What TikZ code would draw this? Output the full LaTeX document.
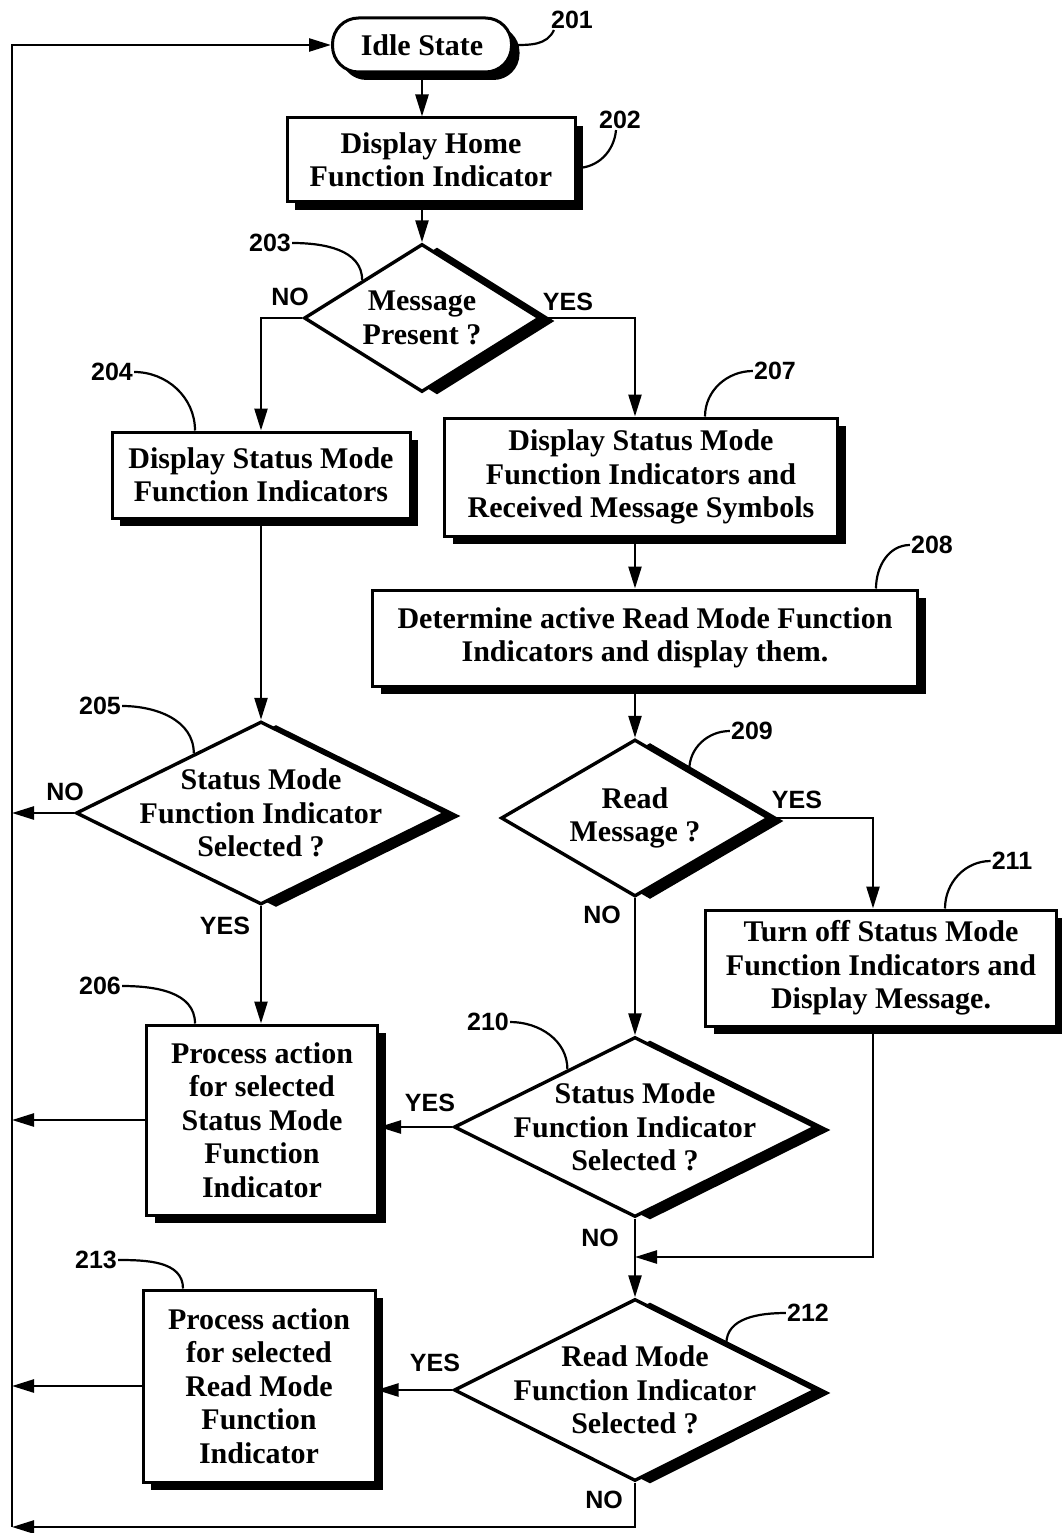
\documentclass[tikz,border=0pt]{standalone}
\usepackage{fontspec}
\setmainfont{Liberation Serif}
\newfontfamily\lblfont{Liberation Sans}
\usetikzlibrary{arrows.meta,positioning,shapes.geometric,shadows,calc}

\begin{document}
\begin{tikzpicture}[x=1pt,y=-1pt,>={Triangle[length=22pt,width=13pt]}]
\tikzstyle{box}=[draw,line width=3pt,fill=white,align=center,inner sep=0pt,font=\fontsize{30}{33.5}\selectfont\bfseries,drop shadow={shadow xshift=8pt,shadow yshift=-8pt,fill=black,opacity=1}]
\tikzstyle{dia}=[diamond,draw,line width=3.4pt,fill=white,inner sep=0pt,drop shadow={shadow xshift=15pt,shadow yshift=-3pt,fill=black,opacity=1}]
\tikzstyle{dtext}=[align=center,inner sep=0pt,font=\fontsize{30}{33.5}\selectfont\bfseries]
\tikzstyle{flow}=[line width=2.5pt,->]
\tikzstyle{lead}=[line width=2.2pt]
\tikzstyle{num}=[inner sep=1pt,font=\fontsize{25}{25}\selectfont\lblfont\bfseries]
\path[use as bounding box,fill=white] (0,0) rectangle (1062,1533);

% boxes and decisions
\node[box,rounded corners=26pt,minimum width=179pt,minimum height=54pt] (idle) at (422,45) {Idle State};
\node[box,minimum width=288pt,minimum height=84pt] (home) at (431,160) {Display Home\\Function Indicator};
\node[dia,minimum width=236pt,minimum height=148pt] (msg) at (422,318) {};
\node[dtext] (msgtxt) at (msg) {Message\\Present ?};
\node[box,minimum width=298pt,minimum height=86pt] (stat) at (261,475) {Display Status Mode\\Function Indicators};
\node[box,minimum width=393pt,minimum height=118pt] (statrx) at (641,477) {Display Status Mode\\Function Indicators and\\Received Message Symbols};
\node[box,minimum width=545pt,minimum height=96pt] (rdmode) at (645,638) {Determine active Read Mode Function\\Indicators and display them.};
\node[dia,minimum width=370pt,minimum height=183pt] (selst) at (261,813) {};
\node[dtext] (selsttxt) at (selst) {Status Mode\\Function Indicator\\Selected ?};
\node[box,minimum width=231pt,minimum height=190pt] (procst) at (262,1120) {Process action\\for selected\\Status Mode\\Function\\Indicator};
\node[dia,minimum width=268pt,minimum height=157pt] (rdmsg) at (635,818) {};
\node[dtext] (rdmsgtxt) at (rdmsg) {Read\\Message ?};
\node[box,minimum width=351pt,minimum height=116pt] (showmsg) at (881,968) {Turn off Status Mode\\Function Indicators and\\Display Message.};
\node[dia,minimum width=362pt,minimum height=180pt] (selst2) at (635,1127) {};
\node[dtext] (selst2txt) at (selst2) {Status Mode\\Function Indicator\\Selected ?};
\node[dia,minimum width=362pt,minimum height=182pt] (selrd) at (635,1390) {};
\node[dtext] (selrdtxt) at (selrd) {Read Mode\\Function Indicator\\Selected ?};
\node[box,minimum width=232pt,minimum height=192pt] (procrd) at (259,1386) {Process action\\for selected\\Read Mode\\Function\\Indicator};

% loop corners and merge point
\coordinate (loopT) at (12,45);
\coordinate (loopB) at (12,1527);
\coordinate (merge) at (635,1257);

% branch labels
\node[num] (no203) at (290,297) {NO};
\node[num] (yes203) at (568,302) {YES};
\node[num] (no205) at (65,792) {NO};
\node[num] (yes205) at (225,926) {YES};
\node[num] (yes209) at (797,800) {YES};
\node[num] (no209) at (602,915) {NO};
\node[num] (yes210) at (430,1103) {YES};
\node[num] (no210) at (600,1238) {NO};
\node[num] (yes212) at (435,1363) {YES};
\node[num] (no212) at (604,1500) {NO};

% reference numbers
\node[num] (l201) at (572,20) {201};
\node[num] (l202) at (620,120) {202};
\node[num] (l203) at (270,243) {203};
\node[num] (l204) at (112,372) {204};
\node[num] (l207) at (775,371) {207};
\node[num] (l208) at (932,545) {208};
\node[num] (l205) at (100,706) {205};
\node[num] (l206) at (100,986) {206};
\node[num] (l209) at (752,731) {209};
\node[num] (l211) at (1012,861) {211};
\node[num] (l210) at (488,1022) {210};
\node[num] (l212) at (808,1313) {212};
\node[num] (l213) at (96,1260) {213};

% connectors
\draw[flow] (idle.south) -- (idle.south |- home.north);
\draw[flow] (msg.north |- home.south) -- (msg.north);
\draw[flow] (msg.west) -| (stat.north);
\draw[flow] (msg.east) -| (rdmsg.north |- statrx.north);
\draw[flow] (rdmsg.north |- statrx.south) -- (rdmsg.north |- rdmode.north);
\draw[flow] (rdmsg.north |- rdmode.south) -- (rdmsg.north);
\draw[flow] (stat.south) -- (selst.north);
\draw[flow] (selst.west) -- (selst.west -| loopT);
\draw[flow] (selst.south) -- (selst.south |- procst.north);
\draw[flow] (procst.west) -- (procst.west -| loopT);
\draw[flow] (rdmsg.east) -| ([xshift=-8pt]showmsg.north);
\draw[flow] (rdmsg.south) -- (selst2.north);
\draw[flow] (selst2.west) -- (selst2.west -| procst.east);
\draw[flow] (selst2.south) -- (selrd.north);
\draw[flow] ([xshift=-8pt]showmsg.south) |- (merge);
\draw[flow] (selrd.west) -- (selrd.west -| procrd.east);
\draw[flow] (procrd.west) -- (procrd.west -| loopT);
\draw[flow] (selrd.south) |- (loopB);
\draw[flow] (loopB) -- (loopT) -- (idle.west);

% leader curves
\coordinate (e203) at ($(msg.north)!0.5!(msg.west)$);
\coordinate (e205) at ($(selst.north)!0.36!(selst.west)$);
\coordinate (e209) at ($(rdmsg.north)!0.4!(rdmsg.east)$);
\coordinate (e210) at ($(selst2.north)!0.37!(selst2.west)$);
\coordinate (e212) at ($(selrd.north)!0.5!(selrd.east)$);
\draw[lead] (idle.east) to[out=0,in=-115] ([xshift=4pt]l201.south west);
\draw[lead] ([yshift=-8pt]home.east) to[out=0,in=-95] ([xshift=-4pt]l202.south);
\draw[lead] (l203.east) to[out=0,in=90] (e203);
\draw[lead] (l204.east) to[out=0,in=90] ([xshift=-66pt]stat.north);
\draw[lead] ([xshift=64pt]statrx.north) to[out=90,in=180] (l207.west);
\draw[lead] ([xshift=231pt]rdmode.north) to[out=90,in=180] (l208.west);
\draw[lead] (l205.east) to[out=0,in=90] (e205);
\draw[lead] (l206.east) to[out=0,in=90] ([xshift=-67pt]procst.north);
\draw[lead] (e209) to[out=90,in=180] (l209.west);
\draw[lead] ([xshift=64pt]showmsg.north) to[out=90,in=180] (l211.west);
\draw[lead] (l210.east) to[out=0,in=90] (e210);
\draw[lead] (e212) to[out=90,in=180] (l212.west);
\draw[lead] (l213.east) to[out=0,in=90] ([xshift=-76pt]procrd.north);
\end{tikzpicture}
\end{document}
